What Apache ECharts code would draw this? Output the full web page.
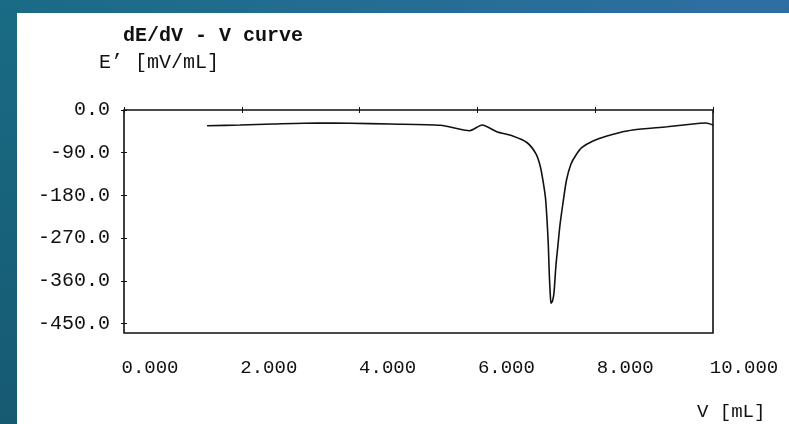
<!DOCTYPE html>
<html>
<head>
<meta charset="utf-8">
<script src="https://cdn.jsdelivr.net/npm/echarts@6/dist/echarts.min.js"></script>
<style>
  html, body { margin: 0; padding: 0; width: 789px; height: 424px; overflow: hidden; background: #ffffff; }
  #topStrip { position: absolute; left: 0; top: 0; width: 789px; height: 13px; background: linear-gradient(to right, #1a6b85, #2e6fa3); }
  #leftStrip { position: absolute; left: 0; top: 0; width: 17px; height: 424px; background: linear-gradient(to bottom, #1a6b85, #165a72); }
  #chart { position: absolute; left: 0; top: 0; width: 789px; height: 424px; }
</style>
</head>
<body>
<div id="topStrip"></div>
<div id="leftStrip"></div>
<div id="chart"></div>
<script>
// Volume V [mL]
const volume = [1.41, 1.97, 2.53, 3.28, 3.84, 4.52, 5.37, 5.87, 6.08, 6.33, 6.60, 6.84, 6.995, 7.07, 7.12, 7.156, 7.182, 7.204, 7.221, 7.236, 7.25, 7.275, 7.30, 7.334, 7.368, 7.40, 7.453, 7.513, 7.589, 7.674, 7.776, 7.963, 8.20, 8.42, 8.64, 9.22, 9.78, 9.88, 10.0];
// dE/dV  E' [mV/mL]
const dEdV = [-33.1, -31.6, -29.5, -27.4, -28.0, -29.5, -32.2, -43.6, -31.6, -45.7, -54.8, -68.5, -92.7, -120.1, -153.9, -185.5, -231.8, -284.5, -347.8, -385.7, -407.4, -402.6, -385.7, -326.7, -284.5, -244.5, -196.0, -147.5, -113.8, -94.8, -79.0, -65.3, -54.8, -47.4, -42.2, -35.2, -28.0, -27.4, -31.6];
const yTickValues = [0, -90, -180, -270, -360, -450];
const xTickValues = [0, 2, 4, 6, 8, 10];
const titleText = 'dE/dV - V curve';
const yName = 'E\u2019 [mV/mL]';
const xName = 'V [mL]';

const FONT = 'Liberation Mono';
const INK = '#111111';

const chart = echarts.init(document.getElementById('chart'), null, { renderer: 'canvas' });
const points = volume.map((v, i) => [v, dEdV[i]]);

chart.setOption({
  backgroundColor: 'transparent',
  animation: false,
  title: [
    { text: titleText, left: 123, top: 26, padding: 0, textStyle: { fontFamily: FONT, fontSize: 20, fontWeight: 'bold', color: INK } },
    { text: yName, left: 99, top: 53, padding: 0, textStyle: { fontFamily: FONT, fontSize: 20, fontWeight: 'normal', color: INK } },
    { text: xName, left: 697, top: 402, padding: 0, textStyle: { fontFamily: FONT, fontSize: 19, fontWeight: 'normal', color: INK } }
  ],
  grid: [
    { left: 124, top: 110, right: 76, bottom: 91, show: true, borderColor: INK, borderWidth: 1.6, backgroundColor: 'transparent' },
    { left: 150, top: 110, right: 45, bottom: 91, show: false }
  ],
  xAxis: [
    { type: 'value', gridIndex: 0, position: 'bottom', min: 0, max: 10, interval: 2,
      axisLine: { show: false }, splitLine: { show: false }, axisLabel: { show: false },
      axisTick: { show: true, inside: true, length: 3, lineStyle: { color: INK, width: 1 } } },
    { type: 'value', gridIndex: 0, position: 'top', min: 0, max: 10, interval: 2,
      axisLine: { show: false }, splitLine: { show: false }, axisLabel: { show: false },
      axisTick: { show: true, inside: true, length: 3, lineStyle: { color: INK, width: 1 } } },
    { type: 'value', gridIndex: 1, position: 'bottom', min: 0, max: 10, interval: 2,
      axisLine: { show: false }, axisTick: { show: false }, splitLine: { show: false },
      axisLabel: { show: true, margin: 25, fontFamily: FONT, fontSize: 19, color: INK,
        customValues: xTickValues, formatter: v => v.toFixed(3) } }
  ],
  yAxis: [
    { type: 'value', gridIndex: 0, position: 'left', min: -470, max: 0,
      axisLine: { show: false }, splitLine: { show: false },
      axisTick: { show: true, inside: true, length: 3, customValues: yTickValues, lineStyle: { color: INK, width: 1 } },
      axisLabel: { show: true, margin: 14, fontFamily: FONT, fontSize: 20, color: INK,
        customValues: yTickValues, formatter: v => v.toFixed(1) } },
    { type: 'value', gridIndex: 0, position: 'right', min: -470, max: 0,
      axisLine: { show: false }, splitLine: { show: false }, axisLabel: { show: false },
      axisTick: { show: true, inside: true, length: 3, customValues: yTickValues, lineStyle: { color: INK, width: 1 } } },
    { type: 'value', gridIndex: 1, show: false, min: -470, max: 0 }
  ],
  series: [
    { type: 'line', xAxisIndex: 0, yAxisIndex: 0, data: points, showSymbol: false, smooth: 0.25,
      lineStyle: { color: INK, width: 1.6 }, silent: true }
  ]
});
</script>
</body>
</html>
